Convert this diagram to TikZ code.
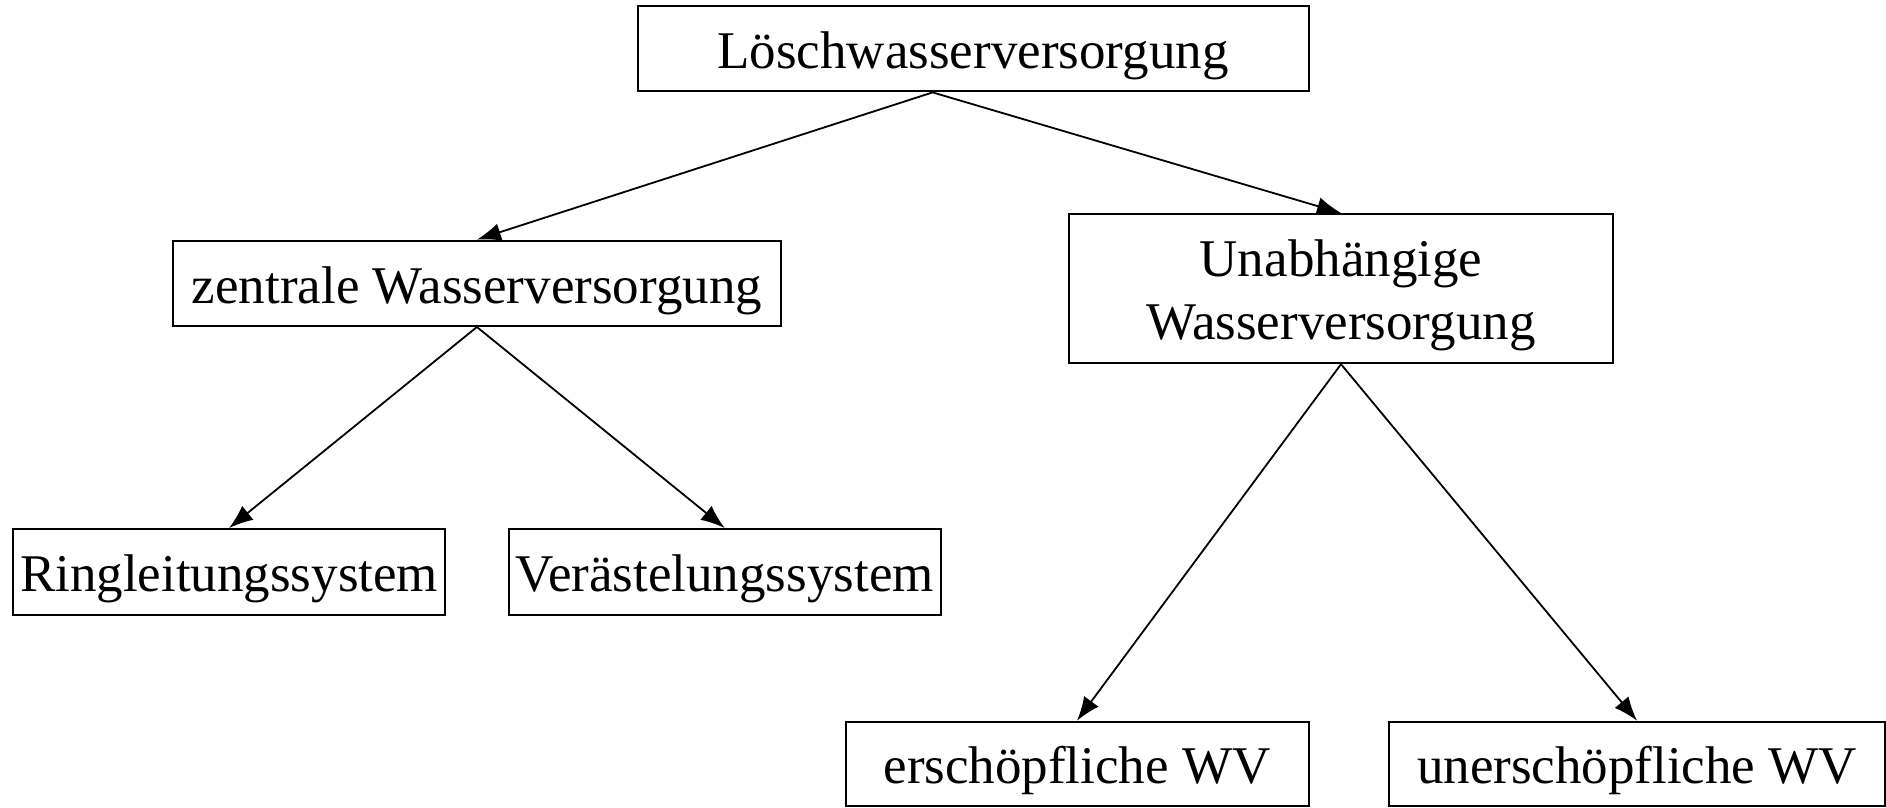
\documentclass[tikz,border=0pt]{standalone}
\usepackage{fontspec}
\setmainfont{Liberation Serif}
\usetikzlibrary{arrows.meta,calc}
\begin{document}
\begin{tikzpicture}[x=1pt,y=-1pt,
  box/.style={draw=black,line width=2pt,inner sep=0pt,align=center,
    font=\fontsize{53}{63}\selectfont,text height=50pt,text depth=10pt},
  conn/.style={line width=1.8pt,-{Latex[length=24pt,width=18pt]}}]
\useasboundingbox (0,0) rectangle (1886,807);
\node[box,minimum width=671pt,minimum height=85.4pt] (top) at (973,48.7) {Löschwasserversorgung};
\node[box,minimum width=607.4pt,minimum height=85.4pt] (zen) at (476.9,283.3) {zentrale Wasserversorgung};
\node[box,minimum width=543.7pt,minimum height=149.2pt,text height=110pt,text depth=8pt] (una) at (1341,288.6) {Unabhängige\\Wasserversorgung};
\node[box,minimum width=431.8pt,minimum height=85.6pt] (ring) at (229.1,571.8) {Ringleitungssystem};
\node[box,minimum width=431.8pt,minimum height=85.6pt] (ver) at (724.7,571.8) {Verästelungssystem};
\node[box,minimum width=463pt,minimum height=84.2pt] (ers) at (1077,763.8) {erschöpfliche WV};
\node[box,minimum width=495.5pt,minimum height=84.2pt] (uner) at (1637,763.8) {unerschöpfliche WV};
\coordinate (topout) at ($(top.south west)!0.44!(top.south east)$);
\draw[conn] (topout) -- (zen.north);
\draw[conn] (topout) -- (una.north);
\draw[conn] (zen.south) -- (ring.north);
\draw[conn] (zen.south) -- (ver.north);
\draw[conn] (una.south) -- (ers.north);
\draw[conn] (una.south) -- (uner.north);
\end{tikzpicture}
\end{document}
